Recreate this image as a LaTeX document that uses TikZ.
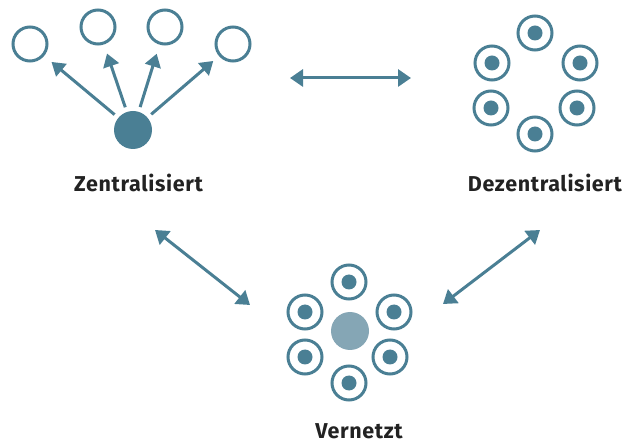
\documentclass[tikz,border=0pt]{standalone}
\usepackage{fontspec}
\setmainfont{Fira Sans}[LetterSpace=3]
\usetikzlibrary{arrows.meta}
\definecolor{petrol}{RGB}{74,127,148}
\definecolor{palepetrol}{RGB}{133,166,181}
\definecolor{labelgray}{RGB}{34,34,34}
\tikzstyle{hub}=[circle, fill=petrol, minimum size=38pt, inner sep=0pt, outer sep=0pt]
\tikzstyle{pale_hub}=[circle, fill=palepetrol, minimum size=38pt, inner sep=0pt, outer sep=0pt]
\tikzstyle{client}=[circle, draw=petrol, line width=3pt, minimum size=34pt, inner sep=0pt, outer sep=0pt]
\tikzstyle{peer}=[client, path picture={\fill[petrol] (path picture bounding box.center) circle (7.5pt);}]
\tikzstyle{caption}=[anchor=base, inner sep=0pt, text=labelgray, font=\bfseries\fontsize{21.5}{24}\selectfont]
\tikzstyle{link}=[draw=petrol, line width=3pt, -{Triangle[length=13pt, width=16pt]}]
\tikzstyle{twoway}=[draw=petrol, line width=3pt, {Triangle[length=13pt, width=17pt]}-{Triangle[length=13pt, width=17pt]}]

\begin{document}
\begin{tikzpicture}[x=1pt, y=-1pt]
    \useasboundingbox (0,0) rectangle (637,443);

    \node (Z) at (133, 130) [hub] {};
    \node (Z1) at (30, 44) [client] {};
    \node (Z2) at (98, 27) [client] {};
    \node (Z3) at (165, 27) [client] {};
    \node (Z4) at (233, 44) [client] {};
    \node (Zlabel) at (138.5, 192) [caption] {Zentralisiert};

    \draw (Z) -- (Z1) [link, shorten <=5pt, shorten >=11pt];
    \draw (Z) -- (Z2) [link, shorten <=5pt, shorten >=11pt];
    \draw (Z) -- (Z3) [link, shorten <=5pt, shorten >=11pt];
    \draw (Z) -- (Z4) [link, shorten <=5pt, shorten >=9pt];

    \node (D1) at (535, 33) [peer] {};
    \node (D2) at (580, 63) [peer] {};
    \node (D3) at (577, 108) [peer] {};
    \node (D4) at (535, 134) [peer] {};
    \node (D5) at (491, 108) [peer] {};
    \node (D6) at (492, 63) [peer] {};
    \node (Dlabel) at (545, 192) [caption] {Dezentralisiert};

    \node (V) at (350, 331) [pale_hub] {};
    \node (V1) at (349, 282) [peer] {};
    \node (V2) at (394, 312) [peer] {};
    \node (V3) at (390, 357) [peer] {};
    \node (V4) at (349, 383) [peer] {};
    \node (V5) at (305, 357) [peer] {};
    \node (V6) at (305, 312) [peer] {};
    \node (Vlabel) at (359, 438) [caption] {Vernetzt};

    \coordinate (ZD1) at (290, 78);
    \coordinate (ZD2) at (411, 78);
    \coordinate (ZV1) at (155, 230);
    \coordinate (ZV2) at (250, 305);
    \coordinate (DV1) at (540, 230);
    \coordinate (DV2) at (443, 304);

    \draw (ZD1) -- (ZD2) [twoway];
    \draw (ZV1) -- (ZV2) [twoway];
    \draw (DV1) -- (DV2) [twoway];
\end{tikzpicture}
\end{document}
